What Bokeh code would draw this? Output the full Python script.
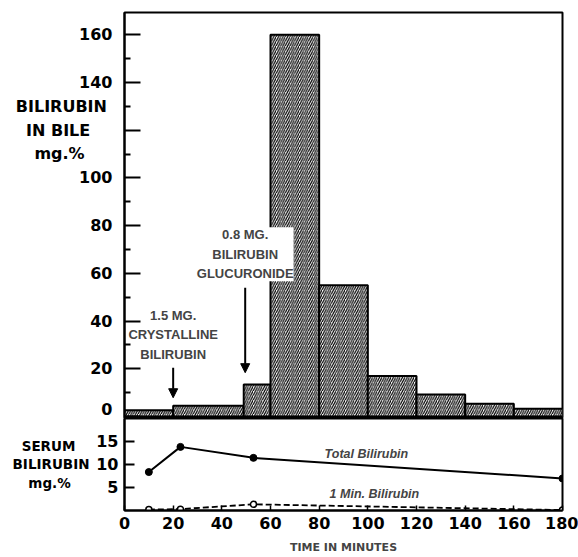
from bokeh.plotting import figure
from bokeh.layouts import column
from bokeh.models import (Range1d, FixedTicker, Label, Arrow, NormalHead,
                          ColumnDataSource, LinearAxis)
from bokeh.embed import file_html
from bokeh.resources import INLINE

# ---- data ----
bar_left = [0, 20, 49, 60, 80, 100, 120, 140, 160]
bar_right = [20, 49, 60, 80, 100, 120, 140, 160, 180]
bile_bilirubin = [2.7, 4.5, 13.4, 160, 55, 17, 9.3, 5.4, 3.3]

serum_time = [10, 23, 53, 180]
total_bilirubin = [8.3, 13.8, 11.4, 6.9]
one_min_bilirubin = [0.1, 0.2, 1.25, 0.0]

bile_ticks = [0, 20, 40, 60, 80, 100, 120, 140, 160]
bile_minor = [10, 30, 50, 70, 90, 110, 130, 150]
serum_ticks = [5, 10, 15]
time_ticks = [0, 20, 40, 60, 80, 100, 120, 140, 160, 180]

NB = "\u00a0"
# trailing no-break spaces centre the lines of these right-aligned tick labels
bile_title = "BILIRUBIN" + NB + "\nIN BILE" + NB * 4 + "\nmg.%" + NB * 5
serum_title = "SERUM" + NB * 3 + "\nBILIRUBIN\nmg.%" + NB * 4

NUM_FONT = "DejaVu Sans"
NARROW = "Liberation Sans Narrow, Liberation Sans"

xr = Range1d(0, 180)

# ---- upper panel: bilirubin in bile ----
p1 = figure(width=578, height=418, x_range=xr, y_range=Range1d(-0.8, 169.3),
            output_backend="svg", toolbar_location=None, x_axis_location=None,
            min_border_left=124, min_border_right=16, min_border_top=12,
            min_border_bottom=0)
p1.xgrid.visible = False
p1.ygrid.visible = False
p1.outline_line_color = "black"
p1.outline_line_width = 2

src = ColumnDataSource(dict(left=bar_left, right=bar_right, top=bile_bilirubin,
                            bottom=[0] * len(bar_left)))
p1.quad(left="left", right="right", top="top", bottom="bottom", source=src,
        fill_color="white", line_color="black", line_width=2,
        hatch_pattern="/", hatch_color="black", hatch_scale=4.6,
        hatch_weight=1.2)

ya = p1.yaxis[0]
ya.ticker = FixedTicker(ticks=bile_ticks, minor_ticks=bile_minor)
ya.major_label_overrides = {120: bile_title}
ya.major_tick_in = 16
ya.major_tick_out = 0
ya.minor_tick_in = 6
ya.minor_tick_out = 0
ya.axis_line_width = 2
ya.major_tick_line_width = 2
ya.minor_tick_line_width = 2
ya.major_label_text_font = NUM_FONT
ya.major_label_text_font_style = "bold"
ya.major_label_text_font_size = "16px"
ya.major_label_text_color = "black"
ya.major_label_text_line_height = 1.25
ya.major_label_standoff = 12

p1.add_layout(Label(x=20, y=34.3, text="1.5 MG.\nCRYSTALLINE\nBILIRUBIN",
                    text_align="center", text_baseline="middle",
                    text_font=NARROW, text_font_style="bold",
                    text_font_size="13px", text_line_height=1.3))
p1.add_layout(Label(x=49.6, y=68.0, text="0.8 MG.\nBILIRUBIN\nGLUCURONIDE",
                    text_align="center", text_baseline="middle",
                    text_font=NARROW, text_font_style="bold",
                    text_font_size="13px", text_line_height=1.3,
                    background_fill_color="white"))

p1.add_layout(Arrow(x_start=20, y_start=20.5, x_end=20, y_end=7.9,
                    line_width=2,
                    end=NormalHead(size=9, fill_color="black", line_width=1)))
p1.add_layout(Arrow(x_start=49.6, y_start=54.0, x_end=49.6, y_end=18.4,
                    line_width=2,
                    end=NormalHead(size=9, fill_color="black", line_width=1)))

# ---- lower panel: serum bilirubin ----
p2 = figure(width=578, height=139, x_range=xr, y_range=Range1d(-0.1, 20.0),
            output_backend="svg", toolbar_location=None,
            min_border_left=124, min_border_right=16, min_border_top=0,
            min_border_bottom=47)
p2.xgrid.visible = False
p2.ygrid.visible = False
p2.outline_line_color = "black"
p2.outline_line_width = 2

p2.line(serum_time, total_bilirubin, line_color="black", line_width=2)
p2.scatter(serum_time, total_bilirubin, marker="circle", size=7,
           fill_color="black", line_color="black")
p2.line(serum_time, one_min_bilirubin, line_color="black", line_width=1.8,
        line_dash="6 3")
p2.scatter(serum_time, one_min_bilirubin, marker="circle", size=6,
           fill_color="white", line_color="black", line_width=1.5)

p2.add_layout(Label(x=99.4, y=12.3, text="Total Bilirubin", text_align="center",
                    text_baseline="middle", text_font="Liberation Sans",
                    text_font_style="bold italic", text_font_size="12.5px"))
p2.add_layout(Label(x=102.7, y=3.6, text="1 Min. Bilirubin", text_align="center",
                    text_baseline="middle", text_font="Liberation Sans",
                    text_font_style="bold italic", text_font_size="12.5px"))

ya2 = p2.yaxis[0]
ya2.ticker = FixedTicker(ticks=serum_ticks, minor_ticks=[])
ya2.major_tick_in = 10
ya2.major_tick_out = 0
ya2.minor_tick_in = 0
ya2.minor_tick_out = 0
ya2.axis_line_width = 2
ya2.major_tick_line_width = 2
ya2.major_label_text_font = NUM_FONT
ya2.major_label_text_font_style = "bold"
ya2.major_label_text_font_size = "16px"
ya2.major_label_text_color = "black"
ya2.major_label_standoff = 6

p2.extra_y_ranges = {"lab": Range1d(-0.1, 20.0)}
lab_axis = LinearAxis(y_range_name="lab",
                      ticker=FixedTicker(ticks=[10], minor_ticks=[]),
                      major_label_overrides={10: serum_title})
lab_axis.axis_line_color = None
lab_axis.major_tick_line_color = None
lab_axis.minor_tick_line_color = None
lab_axis.major_tick_out = 0
lab_axis.major_tick_in = 0
lab_axis.major_label_standoff = 4
lab_axis.major_label_text_font = NUM_FONT
lab_axis.major_label_text_font_style = "bold"
lab_axis.major_label_text_font_size = "13.5px"
lab_axis.major_label_text_color = "black"
lab_axis.major_label_text_line_height = 1.15
p2.add_layout(lab_axis, "left")

xa = p2.xaxis[0]
xa.ticker = FixedTicker(ticks=time_ticks, minor_ticks=[])
xa.major_tick_in = 5
xa.major_tick_out = 0
xa.minor_tick_in = 0
xa.minor_tick_out = 0
xa.axis_line_width = 2
xa.major_tick_line_width = 1.5
xa.major_label_text_font = NUM_FONT
xa.major_label_text_font_style = "bold"
xa.major_label_text_font_size = "16px"
xa.major_label_text_color = "black"
xa.major_label_standoff = 6
xa.axis_label = "TIME IN MINUTES"
xa.axis_label_text_font = NUM_FONT
xa.axis_label_text_font_style = "bold"
xa.axis_label_text_font_size = "11px"
xa.axis_label_standoff = 9

layout = column(p1, p2, spacing=0)
open("out.html", "w").write(file_html(layout, INLINE))
